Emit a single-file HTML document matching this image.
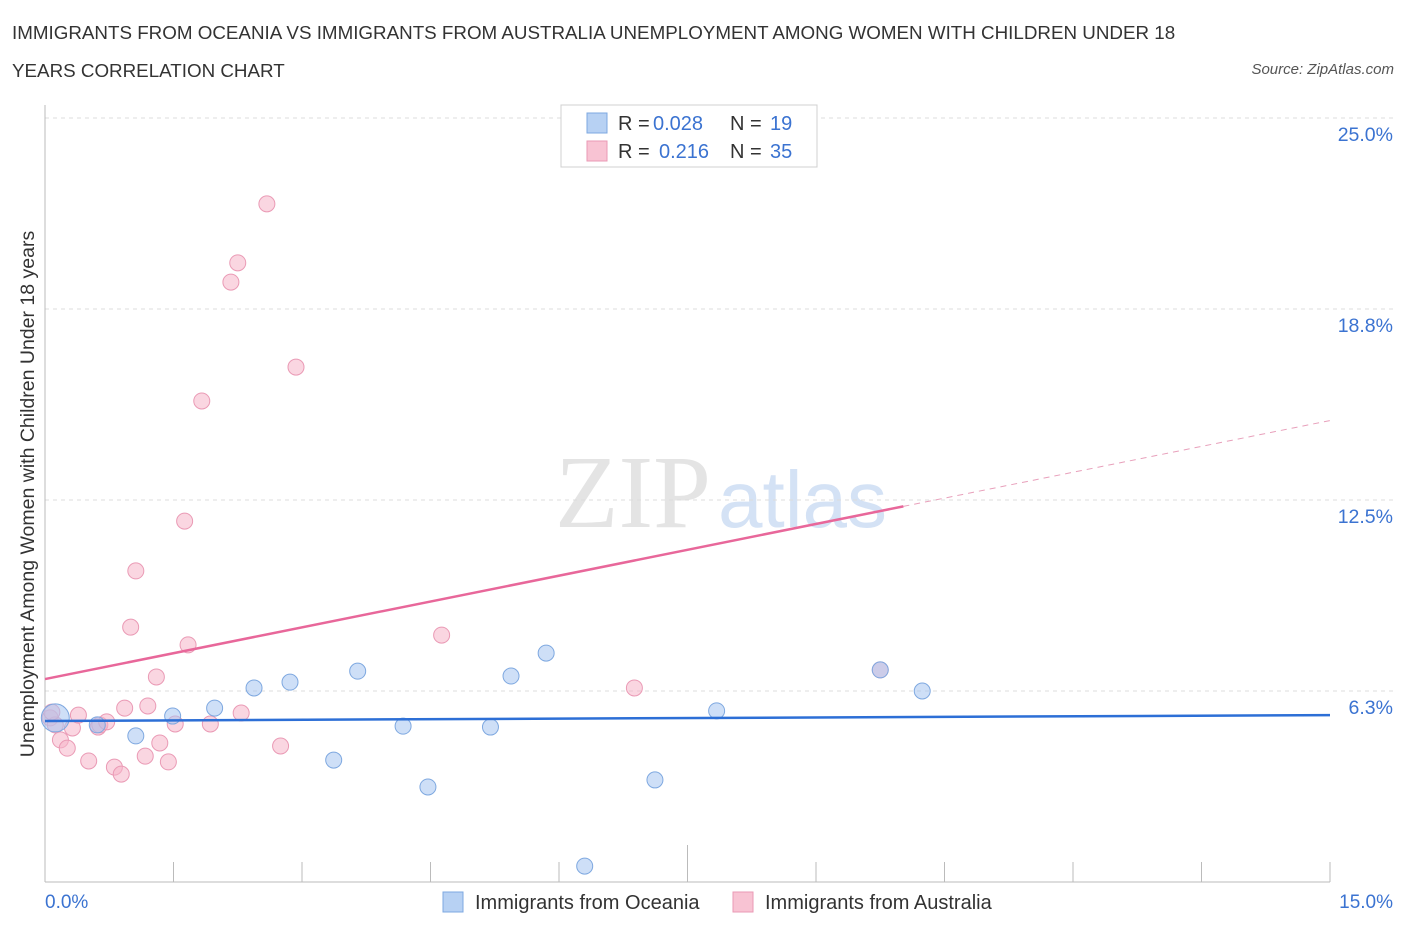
<!DOCTYPE html>
<html><head><meta charset="utf-8"><style>
body{margin:0;background:#fff;font-family:"Liberation Sans",sans-serif;}
#wrap{position:relative;width:1406px;height:930px;overflow:hidden;}
.t{position:absolute;white-space:nowrap;}
</style></head><body>
<div id="wrap">
<div class="t" style="left:12px;top:14px;font-size:18.8px;color:#333;line-height:38px;">IMMIGRANTS FROM OCEANIA VS IMMIGRANTS FROM AUSTRALIA UNEMPLOYMENT AMONG WOMEN WITH CHILDREN UNDER 18<br>YEARS CORRELATION CHART</div>
<div class="t" style="right:12px;top:61px;font-size:15px;color:#555;font-style:italic;">Source: ZipAtlas.com</div>
<svg id="chart" width="1406" height="930" style="position:absolute;left:0;top:0"></svg>
</div>
<script>
const xTicksPct=[0,1.5,3,4.5,6,7.5,9,10.5,12,13.5,15];
const yTicks=[6.25,12.5,18.75,25];
const yTickLabels=["6.3%","12.5%","18.8%","25.0%"];
const oceaniaX=[0.12,0.61,1.06,1.49,1.98,2.44,2.86,3.37,3.65,4.18,4.47,5.20,5.44,5.85,6.30,7.12,7.84,9.75,10.24];
const oceaniaY=[5.37,5.14,4.78,5.43,5.69,6.35,6.54,3.99,6.90,5.10,3.11,5.07,6.74,7.49,0.52,3.34,5.60,6.94,6.25];
const australiaX=[0.06,0.12,0.18,0.26,0.32,0.39,0.51,0.62,0.64,0.72,0.81,0.89,0.93,1.00,1.06,1.17,1.20,1.30,1.34,1.44,1.52,1.63,1.67,1.83,1.93,2.17,2.25,2.29,2.59,2.75,2.93,4.63,6.88,9.75,0.08];
const australiaY=[5.37,5.14,4.65,4.38,5.04,5.46,3.96,5.07,5.14,5.24,3.76,3.53,5.69,8.34,10.18,4.12,5.76,6.71,4.55,3.93,5.17,11.81,7.76,15.74,5.17,19.63,20.26,5.53,22.19,4.45,16.85,8.08,6.35,6.94,5.56];
const oceaniaTrend=[5.27,5.46];
const australiaTrend=[6.64,15.1];
const australiaSolidEnd=10.02;

const X0=45,X1=1330,Y0=882,Ytop=118;
const sx=v=>X0+(X1-X0)*v/15;
const sy=v=>Y0-(Y0-Ytop)*v/25;
const svg=document.getElementById('chart');
const NS='http://www.w3.org/2000/svg';
function mk(tag,attrs,parent){const e=document.createElementNS(NS,tag);for(const k in attrs)e.setAttribute(k,attrs[k]);(parent||svg).appendChild(e);return e;}

let wm=mk('text',{x:555,y:527,'font-size':104,'font-family':'Liberation Serif, serif',fill:'#e4e4e4'});wm.textContent='ZIP';


let wm2=mk('text',{x:718,y:527,'font-size':80,'font-family':'Liberation Sans, sans-serif',fill:'#d4e2f5'});wm2.textContent='atlas';



yTicks.forEach((v,i)=>{
 const g=mk('line',{x1:X0,x2:1395,y1:sy(v),y2:sy(v),stroke:'#dcdcdc','stroke-dasharray':'4,4'});
 
 
 const t=mk('text',{x:1393,y:sy(v)+23,'text-anchor':'end','font-size':19.5,fill:'#3b73d1'});t.textContent=yTickLabels[i];
 
 
});
let ax=mk('line',{x1:X0,x2:X0,y1:105,y2:Y0,stroke:'#bbb'});


let bx=mk('line',{x1:X0,x2:X1,y1:Y0,y2:Y0,stroke:'#bbb'});


xTicksPct.forEach((v,i)=>{
 const l=mk('line',{x1:sx(v),x2:sx(v),y1:i==5?845:862,y2:Y0,stroke:'#bbb'});
 
 
});
let xl0=mk('text',{x:45,y:908,'font-size':19,fill:'#3b73d1'});xl0.textContent='0.0%';


let xl1=mk('text',{x:1393,y:908,'text-anchor':'end','font-size':19,fill:'#3b73d1'});xl1.textContent='15.0%';


let yt=mk('text',{x:34,y:494,'text-anchor':'middle','font-size':19.5,fill:'#333',transform:'rotate(-90 34 494)'});yt.textContent='Unemployment Among Women with Children Under 18 years';



australiaX.forEach((x,i)=>{
 const c=mk('circle',{cx:sx(x),cy:sy(australiaY[i]),r:8,fill:'rgba(246,180,200,0.55)',stroke:'#ea9ab5','stroke-width':1});
 
 
});
oceaniaX.forEach((x,i)=>{
 const c=mk('circle',{cx:sx(x),cy:sy(oceaniaY[i]),r:i==0?14:8,fill:'rgba(165,197,240,0.55)',stroke:'#7ea8e0','stroke-width':1});
 
 
});
let tb=mk('line',{x1:sx(0),y1:sy(oceaniaTrend[0]),x2:sx(15),y2:sy(oceaniaTrend[1]),stroke:'#2d6fd6','stroke-width':2.5});


const py=x=>australiaTrend[0]+(australiaTrend[1]-australiaTrend[0])*x/15;
let tp=mk('line',{x1:sx(0),y1:sy(py(0)),x2:sx(australiaSolidEnd),y2:sy(py(australiaSolidEnd)),stroke:'#e8679a','stroke-width':2.5});


let td=mk('line',{x1:sx(australiaSolidEnd),y1:sy(py(australiaSolidEnd)),x2:sx(15),y2:sy(py(15)),stroke:'#e8a0bb','stroke-width':1,'stroke-dasharray':'6,5'});



let lb=mk('rect',{x:561,y:105,width:256,height:62,fill:'#fff',stroke:'#d0d0d0'});


[[123,'rgba(165,197,240,0.8)','#7ea8e0','0.028','19',653],[151,'rgba(246,180,200,0.8)','#ea9ab5','0.216','35',659]].forEach(r=>{
 const s=mk('rect',{x:587,y:r[0]-10,width:20,height:20,fill:r[1],stroke:r[2]});
 
 
 const t=mk('text',{x:618,y:r[0]+7,'font-size':20,fill:'#333'});
 
 
 t.innerHTML='R = <tspan x="'+r[5]+'" fill="#3b73d1">'+r[3]+'</tspan><tspan x="730">N = </tspan><tspan x="770" fill="#3b73d1">'+r[4]+'</tspan>';
});
[[443,'rgba(165,197,240,0.8)','#7ea8e0','Immigrants from Oceania','legend-oceania'],[733,'rgba(246,180,200,0.8)','#ea9ab5','Immigrants from Australia','legend-australia']].forEach(r=>{
 const s=mk('rect',{x:r[0],y:892,width:20,height:20,fill:r[1],stroke:r[2]});
 
 
 const t=mk('text',{x:r[0]+32,y:909,'font-size':20,fill:'#333'});t.textContent=r[3];
 
 
});
</script>
</body></html>
